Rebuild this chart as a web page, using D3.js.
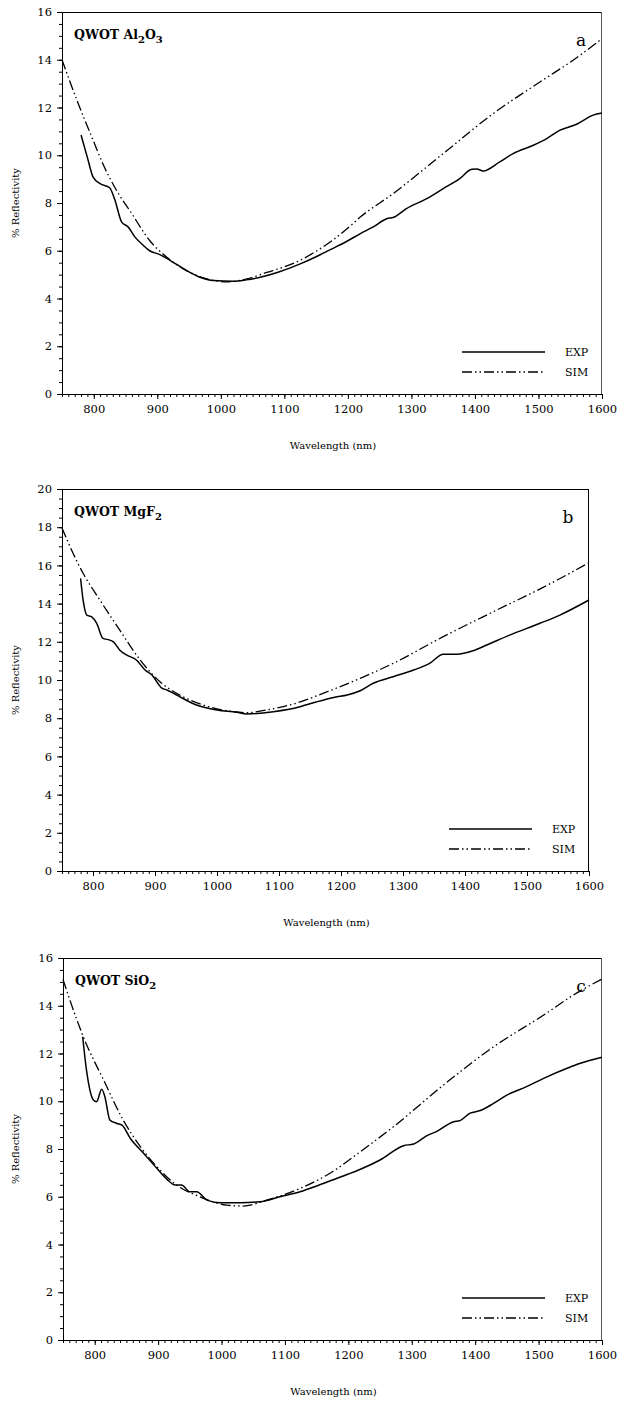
<!DOCTYPE html>
<html>
<head>
<meta charset="utf-8">
<script src="https://cdn.jsdelivr.net/npm/d3@7"></script>
<style>
  body { margin: 0; background: #fff; }
  svg text { font-family: "DejaVu Serif", serif; fill: #000; }
</style>
</head>
<body>
<svg id="chart" width="619" height="1401"></svg>
<script>
// --- data ---
var xTicks = [800, 900, 1000, 1100, 1200, 1300, 1400, 1500, 1600];
var seriesNames = ["EXP", "SIM"];
var panelLetters = ["a", "b", "c"];
var panelTitles = [["QWOT Al", "2", "O", "3"], ["QWOT MgF", "2"], ["QWOT SiO", "2"]];
var yMaxes = [16, 20, 16];

var expA_wl  = [780, 790, 799, 810, 825, 833, 844, 854, 865, 877, 888, 904, 920, 946, 967, 988, 1020, 1040, 1062, 1090, 1125, 1150, 1175, 1200, 1219, 1240, 1261, 1272, 1292, 1324, 1350, 1376, 1395, 1403, 1413, 1439, 1460, 1492, 1513, 1534, 1560, 1586, 1600];
var expA_val = [10.85, 9.9, 9.08, 8.81, 8.64, 8.15, 7.2, 7.0, 6.57, 6.25, 6.0, 5.84, 5.6, 5.17, 4.89, 4.75, 4.72, 4.78, 4.89, 5.1, 5.45, 5.75, 6.08, 6.42, 6.71, 7.0, 7.34, 7.4, 7.76, 8.18, 8.6, 9.02, 9.41, 9.42, 9.34, 9.72, 10.07, 10.42, 10.7, 11.05, 11.3, 11.68, 11.77];
var simA_wl  = [750, 775, 799, 815, 833, 860, 888, 915, 946, 978, 1009, 1041, 1072, 1100, 1125, 1150, 1175, 1200, 1219, 1271, 1350, 1429, 1507, 1555, 1600];
var simA_val = [14.0, 12.2, 10.63, 9.6, 8.66, 7.55, 6.43, 5.73, 5.17, 4.82, 4.7, 4.82, 5.09, 5.33, 5.6, 5.98, 6.42, 6.95, 7.4, 8.39, 10.07, 11.75, 13.15, 13.99, 14.88];

var expB_wl  = [780, 784, 790, 798, 806, 816, 827, 833, 843, 854, 870, 884, 895, 911, 919, 935, 967, 1000, 1032, 1048, 1091, 1134, 1160, 1190, 1210, 1231, 1252, 1284, 1317, 1343, 1365, 1387, 1413, 1435, 1473, 1521, 1553, 1600];
var expB_val = [15.32, 14.19, 13.4, 13.31, 12.97, 12.18, 12.09, 12.0, 11.57, 11.31, 11.05, 10.52, 10.26, 9.57, 9.48, 9.21, 8.69, 8.43, 8.31, 8.22, 8.34, 8.6, 8.85, 9.1, 9.22, 9.44, 9.83, 10.17, 10.52, 10.87, 11.35, 11.35, 11.53, 11.83, 12.36, 12.97, 13.4, 14.19];
var simB_wl  = [750, 773, 784, 811, 843, 876, 908, 940, 978, 1016, 1048, 1080, 1123, 1175, 1231, 1284, 1365, 1446, 1526, 1600];
var simB_val = [17.96, 16.28, 15.59, 14.19, 12.62, 11.05, 9.91, 9.21, 8.69, 8.39, 8.29, 8.43, 8.74, 9.35, 10.09, 10.87, 12.27, 13.58, 14.85, 16.14];

var expC_wl  = [781, 787, 798, 803, 811, 816, 824, 835, 843, 856, 877, 898, 914, 927, 937, 950, 961, 977, 998, 1029, 1061, 1092, 1124, 1150, 1175, 1200, 1219, 1250, 1287, 1303, 1324, 1339, 1366, 1376, 1392, 1408, 1429, 1450, 1481, 1508, 1545, 1566, 1600];
var expC_val = [12.7, 11.31, 10.05, 9.98, 10.5, 10.19, 9.21, 9.07, 9.0, 8.45, 7.82, 7.19, 6.73, 6.49, 6.49, 6.21, 6.21, 5.86, 5.75, 5.75, 5.79, 6.0, 6.21, 6.45, 6.7, 6.95, 7.15, 7.54, 8.14, 8.21, 8.56, 8.73, 9.14, 9.19, 9.5, 9.61, 9.91, 10.26, 10.61, 10.96, 11.38, 11.59, 11.84];
var simC_wl  = [750, 772, 782, 814, 845, 872, 898, 929, 966, 1008, 1034, 1071, 1124, 1175, 1219, 1271, 1350, 1429, 1508, 1555, 1600];
var simC_val = [15.1, 13.4, 12.7, 10.89, 9.21, 8.1, 7.26, 6.49, 6.0, 5.65, 5.61, 5.86, 6.35, 7.05, 7.89, 8.93, 10.68, 12.28, 13.61, 14.45, 15.12];

var expData = [[expA_wl, expA_val], [expB_wl, expB_val], [expC_wl, expC_val]];
var simData = [[simA_wl, simA_val], [simB_wl, simB_val], [simC_wl, simC_val]];

// --- layout of the three panels ---
var boxes = [
  {left: 62, right: 602, top: 12, bottom: 394, edge: "#555"},
  {left: 62, right: 589, top: 489, bottom: 871, edge: "#000"},
  {left: 63, right: 602, top: 958, bottom: 1340, edge: "#555"}
];
var simDash = "10,3,1.5,3,1.5,3";

var svg = d3.select("#chart");

function zip(p) { return p[0].map((w, i) => ({x: w, y: p[1][i]})); }

boxes.forEach(function (b, i) {
    var x = d3.scaleLinear().domain([750, 1600]).range([b.left, b.right]);
    var y = d3.scaleLinear().domain([0, yMaxes[i]]).range([b.bottom, b.top]);
    var g = svg.append("g");

    // minor ticks
    g.append("g").attr("transform", "translate(0," + b.bottom + ")")
        .call(d3.axisBottom(x).tickValues(d3.range(750, 1601, 10)).tickSize(3).tickFormat(""))
        .call(s => s.select(".domain").remove());
    g.append("g").attr("transform", "translate(" + b.left + ",0)")
        .call(d3.axisLeft(y).tickValues(d3.range(0, yMaxes[i] + 0.01, 0.5)).tickSize(3).tickFormat(""))
        .call(s => s.select(".domain").remove());

    // major ticks
    var xa = g.append("g").attr("transform", "translate(0," + b.bottom + ")")
        .call(d3.axisBottom(x).tickValues(xTicks).tickFormat(d3.format("d"))
              .tickSize(5).tickSizeOuter(0).tickPadding(6));
    var ya = g.append("g").attr("transform", "translate(" + b.left + ",0)")
        .call(d3.axisLeft(y).tickValues(d3.range(0, yMaxes[i] + 1, 2)).tickFormat(d3.format("d"))
              .tickSize(5).tickSizeOuter(0).tickPadding(5));
    [xa, ya].forEach(function (a) {
        a.selectAll("text").style("font-size", "11.5px").style("font-family", "DejaVu Serif");
        a.selectAll("line, path").attr("stroke", "#000").attr("stroke-width", 1);
    });

    // top and right frame
    g.append("line").attr("x1", b.left).attr("x2", b.right).attr("y1", b.top + 0.5).attr("y2", b.top + 0.5)
        .attr("stroke", "#000");
    g.append("line").attr("x1", b.right - 0.5).attr("x2", b.right - 0.5).attr("y1", b.top).attr("y2", b.bottom)
        .attr("stroke", b.edge);

    // axis titles
    g.append("text").attr("x", (b.left + b.right) / 2 + 1).attr("y", b.bottom + 55)
        .attr("text-anchor", "middle").style("font-size", "10px").text("Wavelength (nm)");
    g.append("text").attr("transform", "translate(19," + (b.top + b.bottom) / 2 + ") rotate(-90)")
        .attr("text-anchor", "middle").style("font-size", "10px").text("% Reflectivity");

    // panel title with subscripts
    var t = g.append("text").attr("x", b.left + 12).attr("y", b.top + 27)
        .style("font-size", "12.5px").style("font-weight", "bold");
    panelTitles[i].forEach(function (part, k) {
        var sub = k % 2 == 1;
        t.append("tspan").text(part)
            .attr("dy", k == 0 ? 0 : (sub ? 4 : -4))
            .style("font-size", sub ? "10px" : "12.5px");
    });

    g.append("text").attr("x", b.right - 21).attr("y", b.top + 34)
        .attr("text-anchor", "middle").style("font-size", "17px").text(panelLetters[i]);

    // curves
    var line = d3.line().x(d => x(d.x)).y(d => y(d.y)).curve(d3.curveMonotoneX);
    g.append("path").datum(zip(expData[i])).attr("d", line)
        .attr("fill", "none").attr("stroke", "#000").attr("stroke-width", 1.5);
    g.append("path").datum(zip(simData[i])).attr("d", line)
        .attr("fill", "none").attr("stroke", "#000").attr("stroke-width", 1.3)
        .attr("stroke-dasharray", simDash);

    // legend
    seriesNames.forEach(function (name, k) {
        var ly = b.bottom - 42 + k * 20;
        g.append("line").attr("x1", b.right - 140).attr("x2", b.right - 57)
            .attr("y1", ly).attr("y2", ly).attr("stroke", "#000")
            .attr("stroke-width", k == 0 ? 1.5 : 1.3)
            .attr("stroke-dasharray", k == 0 ? null : simDash);
        g.append("text").attr("x", b.right - 37).attr("y", ly + 4)
            .style("font-size", "11px").text(name);
    });
});
</script>
</body>
</html>
